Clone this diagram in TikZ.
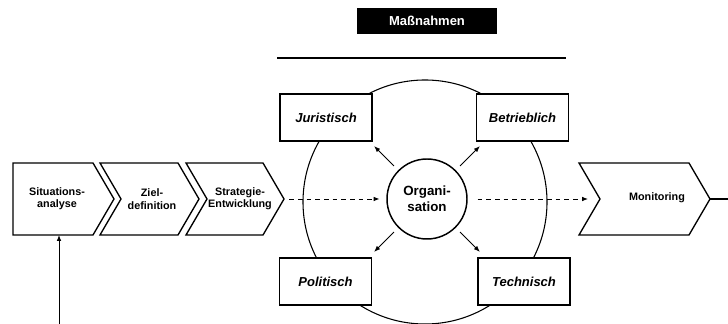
\documentclass[tikz,border=0pt]{standalone}
\usepackage{fontspec}
\setmainfont{Liberation Sans}
\usetikzlibrary{arrows.meta,calc}

\begin{document}
\begin{tikzpicture}[x=0.75pt,y=0.75pt,
  pfeil/.style={-{Latex[length=4.5pt,width=3.5pt]}, line width=0.7pt},
  strich/.style={pfeil, dash pattern=on 3.5pt off 3pt},
  stufe/.style={line width=1pt, line join=miter},
  stufetext/.style={font=\bfseries\fontsize{8.1}{9.3}\selectfont, align=center},
  massbox/.style={draw, fill=white, line width=1.2pt, minimum width=69pt, minimum height=35pt, inner sep=0pt,
    font=\bfseries\itshape\fontsize{9.75}{11}\selectfont}]

\useasboundingbox (0,0) rectangle (728,324);

% Kopf
\node [fill=black, text=white, minimum width=105pt, minimum height=19.5pt, inner sep=0pt,
  font=\bfseries\fontsize{9.75}{11}\selectfont] (kopf) at (427,303) {Maßnahmen};
\draw [line width=0.9pt] (277,266) -- (566,266);

% Kreis hinter den Kaesten
\draw [line width=0.8pt] (425,122) circle (122);

% Stufen
\draw [stufe] (13,161) -- (93,161) -- (114,125) -- (93,89) -- (13,89) coordinate (sit-ul) -- cycle;
\foreach \a/\b in {100/178,186/263,579/689}
	\draw [stufe] (\a,161) -- (\b,161) -- (\b+21,125) -- (\b,89) -- (\a,89) -- (\a+21,125) -- cycle;
\coordinate (sp-str) at (284,125);
\coordinate (kerbe-mon) at (600,125);
\coordinate (sp-mon) at (710,125);
\coordinate (rand) at (728,125);
\coordinate (fuss) at (59,0);

\node [stufetext] (sit) at (57,125) {Situations-\\analyse};
\node [stufetext] (ziel) at (152,125) {Ziel-\\definition};
\node [stufetext] (str) at (240,125) {Strategie-\\Entwicklung};
\node [stufetext] (mon) at (657,126) {Monitoring};

% Massnahmen
\node [massbox] (jur) at (326,206.5) {Juristisch};
\node [massbox] (bet) at (522.5,206.5) {Betrieblich};
\node [massbox] (pol) at (325.5,42.5) {Politisch};
\node [massbox] (tec) at (524,42.5) {Technisch};

\node [draw, circle, line width=1.1pt, minimum size=60pt, inner sep=0pt, align=center,
  font=\bfseries\fontsize{10}{12}\selectfont] (org) at (427,125) {Organi-\\sation};

\foreach \w in {45,135,225,315}
	\draw [pfeil] ($(org.\w)+(\w:6)$) -- ($(org.\w)+(\w:34)$);

\draw [strich, shorten <=4pt, shorten >=5pt] (sp-str) -- (org);
\draw [strich, shorten <=7.5pt, shorten >=9pt] (org) -- (kerbe-mon);
\draw [line width=0.9pt] (sp-mon) -- (rand);
\draw [pfeil] (fuss) -- (fuss |- sit-ul);

\end{tikzpicture}
\end{document}
